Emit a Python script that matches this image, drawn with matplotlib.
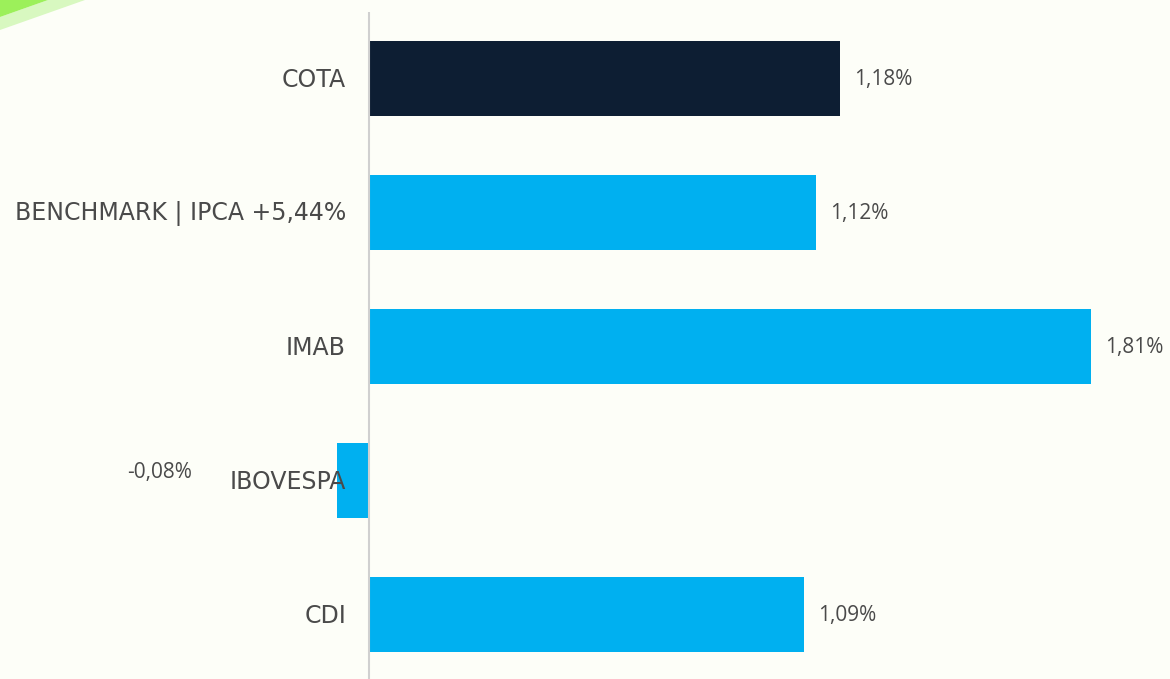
import matplotlib.pyplot as plt
from matplotlib.patches import Polygon

categories = ["COTA", "BENCHMARK | IPCA +5,44%", "IMAB", "IBOVESPA", "CDI"]
values = [1.18, 1.12, 1.81, -0.08, 1.09]
value_labels = ["1,18%", "1,12%", "1,81%", "-0,08%", "1,09%"]
bar_colors = ["#0D1E33", "#00B0F0", "#00B0F0", "#00B0F0", "#00B0F0"]

plt.rcParams['font.family'] = ['Open Sans', 'DejaVu Sans']
bg = "#FDFEF8"
txt = "#4A4A4A"

W, H = 1170, 679
fig = plt.figure(figsize=(W / 100, H / 100), dpi=100, facecolor=bg)

# green swoosh in the top left corner
fig.patches.append(Polygon([(0, 1 - 30 / H), (0, 1 - 17 / H), (48 / W, 1), (85 / W, 1)],
                           closed=True, transform=fig.transFigure,
                           facecolor="#D8F8C0", edgecolor="none", zorder=0))
fig.patches.append(Polygon([(0, 1 - 17 / H), (0, 1), (48 / W, 1)],
                           closed=True, transform=fig.transFigure,
                           facecolor="#9CF05A", edgecolor="none", zorder=0))

zero_px = 369
px_per_unit = 399
ax = fig.add_axes([0, 0, 1, 1 - 11.5 / H])
ax.set_facecolor("none")
ax.set_xlim(-zero_px / px_per_unit, (W - zero_px) / px_per_unit)
ax.set_ylim(-0.5 + (H - 11.5) / 134, -0.5)

y = list(range(len(categories)))
ax.barh(y, values, height=0.56, color=bar_colors, zorder=2)
ax.axvline(0, color="#D0D0D0", lw=1.5, zorder=3)

for i, (cat, v, lab) in enumerate(zip(categories, values, value_labels)):
    ax.annotate(cat, (0, i), xytext=(-23 * 0.72, -1), textcoords="offset points",
                ha="right", va="center", fontsize=17, color=txt,
                family="DejaVu Sans")
    if v >= 0:
        ax.annotate(lab, (v, i), xytext=(14 * 0.72, -1), textcoords="offset points",
                    ha="left", va="center", fontsize=15, color=txt)
    else:
        ax.annotate(lab, (v, i), xytext=(-145 * 0.72, 6), textcoords="offset points",
                    ha="right", va="center", fontsize=15, color=txt)

ax.axis("off")
fig.savefig("out.png", dpi=100, facecolor=bg)
